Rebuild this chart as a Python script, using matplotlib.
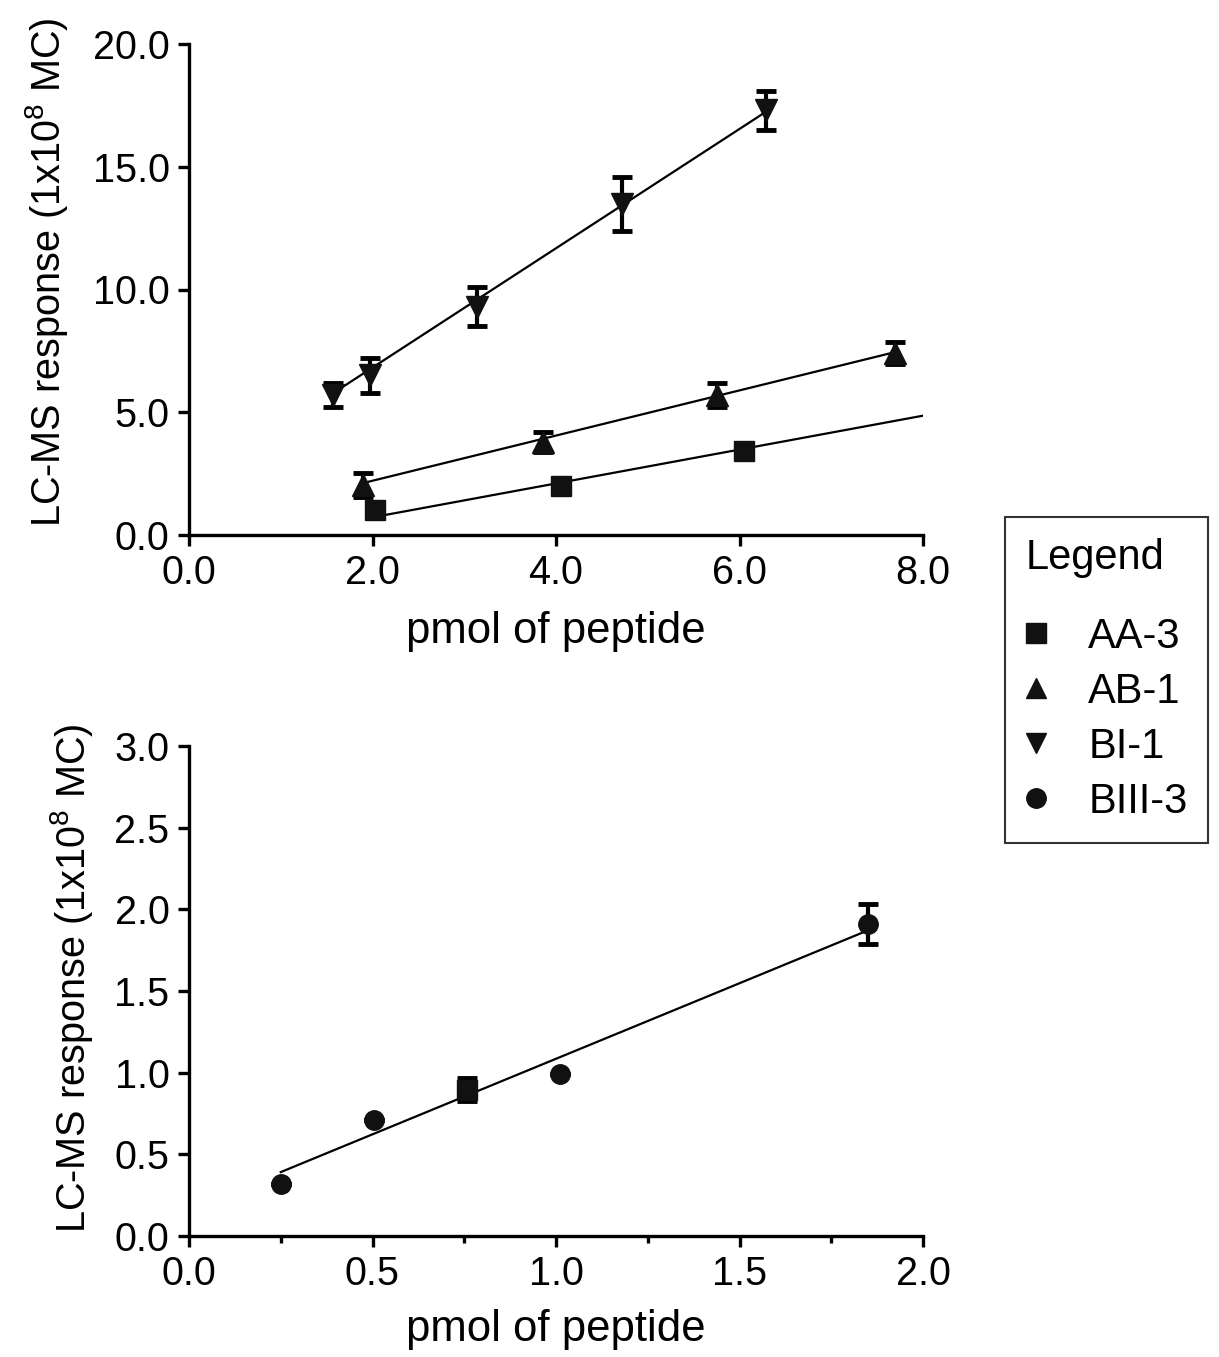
import matplotlib
matplotlib.use("Agg")
import matplotlib.pyplot as plt
from matplotlib.lines import Line2D
from matplotlib.ticker import MultipleLocator
import numpy as np

plt.rcParams['font.family'] = ['Liberation Sans', 'DejaVu Sans']

# ---- data (top panel) ----
aa3_x = [2.03, 4.05, 6.05]
aa3_y = [1.0, 2.0, 3.42]
aa3_err = [0.3, 0.0, 0.0]
aa3_fit = (0.69, -0.66)       # slope, intercept
aa3_fit_range = (2.05, 8.0)

ab1_x = [1.9, 3.86, 5.75, 7.7]
ab1_y = [2.04, 3.8, 5.7, 7.4]
ab1_err = [0.5, 0.4, 0.5, 0.45]
ab1_fit = (0.92, 0.37)
ab1_fit_range = (1.9, 7.7)

bi1_x = [1.57, 1.97, 3.14, 4.72, 6.29]
bi1_y = [5.7, 6.5, 9.3, 13.5, 17.3]
bi1_err = [0.5, 0.7, 0.8, 1.1, 0.8]
bi1_fit = (2.43, 1.96)
bi1_fit_range = (1.57, 6.28)

# ---- data (bottom panel) ----
biii3_x = [0.25, 0.504, 1.01, 1.85]
biii3_y = [0.32, 0.71, 0.99, 1.91]
biii3_err = [0.0, 0.0, 0.0, 0.12]
sq_x = [0.757]
sq_y = [0.895]
sq_err = [0.07]
biii3_fit = (0.925, 0.16)
biii3_fit_range = (0.25, 1.845)

top_xticks = [0, 2, 4, 6, 8]
top_yticks = [0, 5, 10, 15, 20]
bot_xticks = [0, 0.5, 1.0, 1.5, 2.0]
bot_yticks = [0, 0.5, 1.0, 1.5, 2.0, 2.5, 3.0]

legend_labels = ['AA-3', 'AB-1', 'BI-1', 'BIII-3']
legend_markers = ['s', '^', 'v', 'o']

W, H = 1219, 1357
fig = plt.figure(figsize=(W / 100, H / 100), dpi=100)

ax1 = fig.add_axes([189 / W, 1 - 535 / H, (923 - 189) / W, (535 - 44) / H])
ax2 = fig.add_axes([189 / W, 1 - 1236 / H, (923 - 189) / W, (1236 - 746) / H])

FS = 28.5
ekw = dict(fmt='none', ecolor='black', elinewidth=3, capsize=7, capthick=3.5)


def fitline(ax, fit, rng):
    xs = np.array(rng)
    ax.plot(xs, fit[0] * xs + fit[1], color='black', lw=1.6, zorder=2)


def series(ax, x, y, err, marker, msize):
    ax.errorbar(x, y, yerr=err, zorder=3, **ekw)
    ax.plot(x, y, linestyle='none', marker=marker, markersize=msize,
            color='#111111', zorder=4)


fitline(ax1, aa3_fit, aa3_fit_range)
fitline(ax1, ab1_fit, ab1_fit_range)
fitline(ax1, bi1_fit, bi1_fit_range)
series(ax1, aa3_x, aa3_y, aa3_err, 's', 14)
series(ax1, ab1_x, ab1_y, ab1_err, '^', 16)
series(ax1, bi1_x, bi1_y, bi1_err, 'v', 16)

fitline(ax2, biii3_fit, biii3_fit_range)
series(ax2, biii3_x, biii3_y, biii3_err, 'o', 14)
series(ax2, sq_x, sq_y, sq_err, 's', 14)

ax1.set_xlim(0, 8)
ax1.set_ylim(0, 20)
ax1.set_xticks(top_xticks)
ax1.set_yticks(top_yticks)
ax1.set_xticklabels([f"{v:.1f}" for v in top_xticks])
ax1.set_yticklabels([f"{v:.1f}" for v in top_yticks])

ax2.set_xlim(0, 2)
ax2.set_ylim(0, 3)
ax2.set_xticks(bot_xticks)
ax2.set_yticks(bot_yticks)
ax2.set_xticklabels([f"{v:.1f}" for v in bot_xticks])
ax2.set_yticklabels([f"{v:.1f}" for v in bot_yticks])
ax2.xaxis.set_minor_locator(MultipleLocator(0.25))

ylabel = r'LC-MS response (1x10$^{\mathregular{8}}$ MC)'
for ax in (ax1, ax2):
    for s in ('top', 'right'):
        ax.spines[s].set_visible(False)
    for s in ('left', 'bottom'):
        ax.spines[s].set_linewidth(2.4)
    ax.tick_params(which='major', direction='out', length=8, width=2.4,
                   labelsize=FS, pad=6)
    ax.tick_params(which='minor', direction='out', length=5, width=2.4)
    ax.set_xlabel('pmol of peptide', fontsize=31.5)
    ax.set_ylabel(ylabel, fontsize=28.5)

AW, AH = 923 - 189, 491.0
# x-label centres (figure px): top y=632, bottom y=1330
ax1.xaxis.set_label_coords(0.5, (535 - 632) / AH)
ax2.xaxis.set_label_coords(0.5, (1236 - 1330) / 490.0)
# y-label centres (figure px)
ax1.yaxis.set_label_coords((47 - 189) / AW, (535 - 272) / AH)
ax2.yaxis.set_label_coords((72 - 189) / AW, (1236 - 978) / 490.0)
for ax in (ax1, ax2):
    ax.xaxis.label.set_va('center')
    ax.yaxis.label.set_va('center')

handles = [Line2D([], [], linestyle='none', marker=m, markersize=14,
                  color='#111111') for m in legend_markers]
leg = fig.legend(handles, legend_labels, title='Legend',
                 loc='upper left', bbox_to_anchor=(1005 / W, 1 - 517 / H),
                 fontsize=30, title_fontsize=30, frameon=True,
                 fancybox=False, edgecolor='black', handlelength=0.5,
                 handletextpad=1.0, labelspacing=0.36, borderpad=0.5,
                 alignment='left', borderaxespad=0)
leg.get_frame().set_linewidth(1.5)
leg._legend_box.sep = 28

fig.savefig('out.png', dpi=100, facecolor='white')
